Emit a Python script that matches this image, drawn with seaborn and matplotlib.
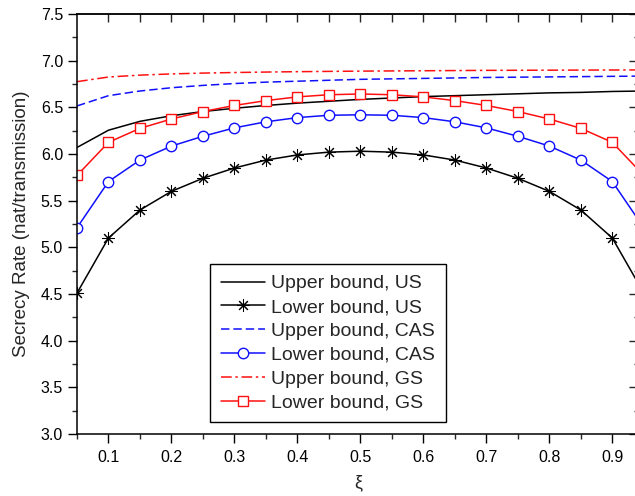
import numpy as np
import pandas as pd
import matplotlib
matplotlib.use("Agg")
import matplotlib.pyplot as plt
from matplotlib.ticker import MultipleLocator, NullFormatter
import seaborn as sns

# power-splitting ratio
xi = [0.05, 0.10, 0.15, 0.20, 0.25, 0.30, 0.35, 0.40, 0.45, 0.50,
      0.55, 0.60, 0.65, 0.70, 0.75, 0.80, 0.85, 0.90, 0.95]

upper_us = [6.07, 6.255, 6.35, 6.41, 6.455, 6.49, 6.52, 6.545, 6.565, 6.585,
            6.60, 6.615, 6.625, 6.635, 6.645, 6.655, 6.66, 6.67, 6.675]
lower_us = [4.51, 5.10, 5.40, 5.60, 5.74, 5.85, 5.935, 5.99, 6.02, 6.03,
            6.02, 5.99, 5.935, 5.85, 5.74, 5.60, 5.40, 5.10, 4.51]
upper_cas = [6.515, 6.625, 6.675, 6.71, 6.735, 6.755, 6.77, 6.78, 6.79, 6.80,
             6.805, 6.81, 6.815, 6.82, 6.823, 6.826, 6.829, 6.832, 6.835]
lower_cas = [5.21, 5.705, 5.935, 6.085, 6.19, 6.28, 6.345, 6.39, 6.415, 6.42,
             6.415, 6.39, 6.345, 6.28, 6.19, 6.085, 5.935, 5.705, 5.21]
upper_gs = [6.775, 6.825, 6.845, 6.858, 6.867, 6.873, 6.878, 6.882, 6.885, 6.888,
            6.89, 6.892, 6.894, 6.896, 6.897, 6.898, 6.899, 6.90, 6.901]
lower_gs = [5.77, 6.125, 6.275, 6.375, 6.455, 6.52, 6.572, 6.612, 6.635, 6.643,
            6.635, 6.612, 6.572, 6.52, 6.455, 6.375, 6.275, 6.125, 5.77]

labels = ["Upper bound, US", "Lower bound, US",
          "Upper bound, CAS", "Lower bound, CAS",
          "Upper bound, GS", "Lower bound, GS"]

sns.set_theme(style="ticks")
plt.rcParams["font.family"] = ["Liberation Sans", "DejaVu Sans"]
plt.rcParams["mathtext.fontset"] = "dejavusans"

fig = plt.figure(figsize=(6.35, 4.96), dpi=100)
ax = fig.add_axes([77 / 635, (496 - 434) / 496, (640 - 77) / 635, (434 - 14) / 496])

series = [
    (upper_us, dict(color="black", linestyle="-")),
    (lower_us, dict(color="black", linestyle="-", marker=(8, 2, 0), markersize=9,
                    markeredgewidth=0.75, markeredgecolor="black")),
    (upper_cas, dict(color="#1010ff", linestyle=(0, (5.5, 2.6)))),
    (lower_cas, dict(color="#1010ff", linestyle="-", marker="o", markersize=7.5,
                     markerfacecolor="white", markeredgecolor="#1010ff",
                     markeredgewidth=1.0)),
    (upper_gs, dict(color="#ff1010", linestyle=(0, (7, 2.4, 1.6, 2.4)))),
    (lower_gs, dict(color="#ff1010", linestyle="-", marker="s", markersize=7,
                    markerfacecolor="white", markeredgecolor="#ff1010",
                    markeredgewidth=1.0)),
]

for (vals, style), lab in zip(series, labels):
    df = pd.DataFrame({"xi": xi, "rate": vals})
    sns.lineplot(data=df, x="xi", y="rate", ax=ax, label=lab, linewidth=1.1,
                 clip_on=True, **style)

ax.set_xlim(0.05, 0.944)
ax.set_ylim(3.0, 7.5)
ax.xaxis.set_minor_locator(MultipleLocator(0.05))
ax.yaxis.set_minor_locator(MultipleLocator(0.25))
ax.set_xticks([0.1, 0.2, 0.3, 0.4, 0.5, 0.6, 0.7, 0.8, 0.9])
ax.set_xticklabels(["0.1", "0.2", "0.3", "0.4", "0.5", "0.6", "0.7", "0.8", "0.9"])
ax.set_yticks(np.arange(3.0, 7.51, 0.5))
ax.set_yticklabels([f"{v:.1f}" for v in np.arange(3.0, 7.51, 0.5)])

for sp in ax.spines.values():
    sp.set_linewidth(1.1)
    sp.set_color("black")

ax.tick_params(axis="both", which="major", direction="out", length=6.5, width=1.0,
               labelsize=11.5, colors="black")
ax.tick_params(axis="both", which="minor", direction="out", length=3.5, width=1.0)
ax.tick_params(axis="x", which="major", pad=5)
ax.tick_params(axis="y", which="major", pad=3.5)

# mirrored inward ticks on the top and right edges
top = ax.secondary_xaxis("top")
top.set_xticks(np.arange(0.10, 0.95, 0.05))
top.tick_params(direction="in", length=6, width=1.0, labeltop=False)
top.xaxis.set_major_formatter(NullFormatter())
top.spines["top"].set_linewidth(1.1)

right = ax.secondary_yaxis("right")
right.set_yticks(np.arange(3.0, 7.51, 0.5))
right.yaxis.set_minor_locator(MultipleLocator(0.25))
right.tick_params(which="major", direction="in", length=8, width=1.0, labelright=False)
right.tick_params(which="minor", direction="in", length=4, width=1.0)
right.yaxis.set_major_formatter(NullFormatter())
right.spines["right"].set_linewidth(1.1)

ax.set_xlabel("ξ", fontsize=13, labelpad=7)
ax.set_ylabel("Secrecy Rate (nat/transmission)", fontsize=13.5, labelpad=8)

leg = ax.legend(loc="upper left", bbox_to_anchor=(210 / 635, 1 - 264 / 496),
                bbox_transform=fig.transFigure, borderaxespad=0, fontsize=14,
                frameon=True, fancybox=False, framealpha=1, edgecolor="black",
                handlelength=2.3, handletextpad=0.3, labelspacing=0.32,
                borderpad=0.55, numpoints=1)
leg.get_frame().set_linewidth(1.0)

fig.savefig("out.png", dpi=100)
